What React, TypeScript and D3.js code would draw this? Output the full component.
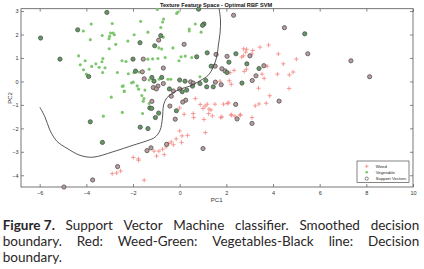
import React, { useEffect, useRef } from "react";
import * as d3 from "d3";

type P = [number, number];

const xTicks = [-6, -4, -2, 0, 2, 4, 6, 8, 10];
const yTicks = [-4, -3, -2, -1, 0, 1, 2, 3];
const chartTitle = "Texture Feature Space - Optimal RBF SVM";
const xLabel = "PC1";
const yLabel = "PC2";
const legendLabels = ["Weed", "Vegetable", "Support Vectors"];

const captionBold = "Figure 7.";
const captionLines = [
  "Support Vector Machine classifier. Smoothed decision",
  "boundary. Red: Weed-Green: Vegetables-Black line: Decision",
  "boundary.",
];

const vegPoints: P[] = [
  [-4.13, 2.15], [-3.79, 2.45], [-3.83, 1.78], [-3.32, 1.96], [-2.89, 2.47], [-2.96, 2.06], [-2.85, 2.06],
  [-3.0, 1.92], [-3.03, 1.82], [-2.8, 1.99], [-2.74, 1.58], [-3.02, 1.39], [-2.22, 1.72], [-1.95, 1.99],
  [-4.33, 1.09], [-4.05, 0.88], [-4.26, 0.71], [-4.12, 0.5], [-3.77, 0.64], [-3.59, 0.75], [-3.45, 0.6],
  [-3.29, 0.98], [-3.33, 0.84], [-3.2, 0.58], [-3.3, 0.38], [-4.0, 0.31], [-2.67, 0.38], [-2.47, 0.88],
  [-2.3, 0.85], [-2.2, 0.33], [-1.96, 0.37], [-2.06, -0.06], [-2.46, -0.21], [-2.37, -0.43], [-2.93, -0.67],
  [-0.96, 3.07], [-0.13, 2.9], [-0.07, 2.96], [-0.69, 2.66], [-0.73, 2.53], [-0.81, 2.3], [-1.67, 2.56],
  [-1.36, 2.1], [-0.7, 1.88], [-0.89, 1.43], [-0.77, 1.38], [-0.29, 1.43], [0.41, 2.23], [0.41, 2.15],
  [0.67, 2.45], [0.92, 2.1], [-1.36, 0.95], [-1.16, 0.96], [-0.93, 0.98], [-0.62, 1.02], [0.06, 1.05],
  [0.24, 1.08], [0.52, 1.02], [-0.03, 0.88], [-1.73, 0.4], [-1.31, 0.52], [-0.88, 0.09], [-0.5, 0.09],
  [-0.38, 0.09], [0.87, 0.2], [-1.31, 0.06], [-1.53, -0.73], [-1.62, -0.6], [-1.76, -0.33], [-1.82, -0.19],
  [-1.99, -0.03], [-2.42, -0.19], [-2.38, -0.41], [-3.27, -1.48], [-2.46, -1.32], [-1.59, -1.37],
  [-1.56, -0.84], [-1.31, -0.94], [-1.49, -0.37],
];

const weedPoints: P[] = [
  [0.67, -0.73], [0.88, -0.98], [1.0, -1.15], [0, -1.13], [0.19, -1.4], [0.58, -1.37], [0.6, -1.54],
  [1.04, -1.62], [1.24, -1.37], [1.34, -1.22], [1.1, -2.18], [0, -2.11], [0.1, -2.32], [0.34, -2.3],
  [-0.15, -2.45], [-0.36, -2.58], [-0.27, -2.7], [0.08, -2.6], [-0.47, -2.65], [-0.58, -2.79], [-0.73, -2.89],
  [-0.89, -2.97], [-1.1, -2.97], [-0.66, -3.12], [-0.99, -3.18], [-1.99, -3.24], [-1.77, -3.3], [-1.76, -3.36],
  [-2.53, -3.82], [-2.7, -3.9], [-2.89, -3.93], [-1.52, -4.21], [1.09, -1.05], [1.26, -1.18], [1.51, -0.97],
  [1.88, -0.97], [2.1, -0.91], [1.4, -1.47], [1.81, -1.51], [1.76, -1.54], [2.13, 0.03], [1.73, 0.01],
  [2.74, 1.39], [2.87, 1.37], [2.83, 1.25], [3.13, 1.32], [3.44, 1.46], [3.81, 1.55], [4.23, 1.17],
  [2.73, 1.09], [2.33, 0.47], [2.77, 0.43], [2.86, 0.52], [3.75, 0.65], [4.44, 0.75], [5.0, 0.95],
  [4.86, 0.4], [4.7, 0.28], [4.19, 0.31], [3.62, 0.13], [3.38, -0.29], [4.69, -0.3], [2.21, -0.12],
  [2.16, 0.37], [3.24, -1.04], [3.4, -0.96], [3.71, -0.93], [2.61, -1.42], [2.37, -1.48], [2.2, -1.42],
  [3.1, -1.54], [2.66, 1.04], [3.1, 1.17], [3.53, 0.31], [3.86, -0.61], [1.18, -0.97], [2.04, -0.94],
  [2.23, -1.44], [2.58, -1.44],
];

const vegSupport: P[] = [
  [-5.96, 1.85], [-5.13, 0.95], [-4.37, 2.2], [-3.12, 2.94], [-3.9, 0.21], [-2.0, 0.95], [-1.7, 1.65],
  [-1.07, 1.52], [-0.81, 1.95], [1.04, 2.45], [0.98, 2.39], [0.81, 3.08], [0.73, 1.05], [1.18, 1.22],
  [2.11, 0.82], [2.03, 0.38], [-1.89, 0.44], [-1.19, 0.17], [-1.1, 0.01], [-0.77, 0.17], [0.0, 0.06],
  [0.23, 0.01], [1.12, 0.04], [-0.44, -0.32], [0.3, -0.37], [0.55, -0.2], [-1.28, -1.13], [-3.83, -1.72],
  [-1.2, -1.15], [-1.04, -1.54], [-0.9, -1.35], [-1.69, -1.95], [-1.36, -2.01], [-3.31, -2.6], [-0.14, -1.25],
  [5.36, 2.03], [2.41, 1.18], [2.88, 0.75], [3.4, 0.55], [2.67, -0.07], [1.16, -0.23], [1.44, -0.23],
  [0.87, -0.09], [1.35, 0.65], [0.11, -0.44],
];

const weedSupport: P[] = [
  [-0.9, 1.76], [0.19, 1.58], [-1.56, 0.95], [1.56, 1.15], [1.52, 0.65], [1.94, 0.45], [-1.6, 0.41],
  [-1.52, 0.11], [-0.7, 0.57], [0.47, -0.02], [0.58, -0.07], [-1.13, -0.26], [-0.93, -0.2], [-1.0, -0.32],
  [-0.27, -0.41], [0.0, -0.32], [-0.36, -0.63], [0.26, -0.8], [0.13, -0.88], [-1.19, -0.85], [-0.42, -1.05],
  [-0.19, -1.61], [1.0, -2.86], [-0.56, -2.68], [-1.23, -2.83], [-1.4, -2.95], [-2.66, -3.63], [-3.73, -4.2],
  [-4.96, -4.5], [2.31, 2.82], [4.49, 2.29], [5.49, 1.18], [3.01, 1.09], [3.61, 0.67], [3.27, 0.24],
  [3.11, 0.04], [4.26, -0.84], [2.4, -0.98], [2.46, -1.6], [3.1, -1.79], [7.34, 0.88], [8.14, 0.2],
  [2.03, 1.07], [1.81, 0.54], [1.53, -0.03], [1.78, -0.14], [-0.7, -0.09],
];

const boundary: P[] = [
  [1.69, 3.1], [1.75, 2.62], [1.73, 2.06], [1.66, 1.55], [1.59, 1.05], [1.44, 0.62], [1.23, 0.27],
  [0.87, 0.03], [0.44, -0.2], [0.01, -0.33], [-0.33, -0.52], [-0.56, -0.71], [-0.69, -1.01], [-0.74, -1.57],
  [-0.84, -2.08], [-1.06, -2.38], [-1.4, -2.53], [-2.0, -2.72], [-2.86, -3.0], [-3.72, -3.23], [-4.27, -3.15],
  [-4.83, -2.85], [-5.26, -2.55], [-5.56, -2.08], [-5.77, -1.52], [-5.99, -1.1],
];

const WEED = "#f28a84";
const VEG = "#7cc66c";
const VEG_SV = "#5f9a5e";
const WEED_SV = "#bb9c9d";
const SV_EDGE = "#505050";

export default function App() {
  const ref = useRef<SVGSVGElement>(null);

  useEffect(() => {
    const svg = d3.select(ref.current);
    svg.selectAll("*").remove();
    const font = "'Liberation Sans', Arial, sans-serif";

    const x = d3.scaleLinear().domain([-6.8, 10]).range([21, 413]);
    const y = d3.scaleLinear().domain([-4.5, 3.1]).range([187, 8.7]);

    const g = svg.append("g");

    const styleAxis = (sel: any) => {
      sel.select(".domain").remove();
      sel.selectAll(".tick line").attr("stroke", "#555").attr("stroke-width", 0.7);
      sel.selectAll(".tick text").attr("fill", "#333").style("font-family", font).style("font-size", "5.5px");
    };
    g.append("g").attr("transform", "translate(0,187)")
      .call(d3.axisBottom(x).tickValues(xTicks).tickSizeInner(-3).tickSizeOuter(0).tickPadding(4))
      .call(styleAxis);
    g.append("g").attr("transform", "translate(0,8.7)")
      .call(d3.axisTop(x).tickValues(xTicks).tickSizeInner(-3).tickSizeOuter(0).tickFormat(() => ""))
      .call(styleAxis);
    g.append("g").attr("transform", "translate(21,0)")
      .call(d3.axisLeft(y).tickValues(yTicks).tickSizeInner(-3).tickSizeOuter(0).tickPadding(2.5))
      .call(styleAxis);
    g.append("g").attr("transform", "translate(413,0)")
      .call(d3.axisRight(y).tickValues(yTicks).tickSizeInner(-3).tickSizeOuter(0).tickFormat(() => ""))
      .call(styleAxis);

    g.append("rect").attr("x", 21).attr("y", 8.7).attr("width", 392).attr("height", 178.3)
      .attr("fill", "none").attr("stroke", "#555").attr("stroke-width", 0.8);

    const plus = (cx: number, cy: number, s: number) =>
      `M${cx - s},${cy}H${cx + s}M${cx},${cy - s}V${cy + s}`;
    g.append("g").selectAll("path").data(weedPoints).join("path")
      .attr("d", (d) => plus(x(d[0]), y(d[1]), 2.2))
      .attr("stroke", WEED).attr("stroke-width", 0.85).attr("fill", "none");

    g.append("g").selectAll("circle").data(vegPoints).join("circle")
      .attr("cx", (d) => x(d[0])).attr("cy", (d) => y(d[1])).attr("r", 1.55)
      .attr("fill", VEG);

    g.append("g").selectAll("circle").data(weedSupport).join("circle")
      .attr("cx", (d) => x(d[0])).attr("cy", (d) => y(d[1])).attr("r", 2.1)
      .attr("fill", WEED_SV).attr("stroke", SV_EDGE).attr("stroke-width", 0.8);
    g.append("g").selectAll("circle").data(vegSupport).join("circle")
      .attr("cx", (d) => x(d[0])).attr("cy", (d) => y(d[1])).attr("r", 2.1)
      .attr("fill", VEG_SV).attr("stroke", SV_EDGE).attr("stroke-width", 0.8);

    const line = d3.line<P>().x((d) => x(d[0])).y((d) => y(d[1])).curve(d3.curveCatmullRom.alpha(0.5));
    g.append("path").attr("d", line(boundary)).attr("fill", "none")
      .attr("stroke", "#3a3a3a").attr("stroke-width", 0.85);

    g.append("text").attr("x", 216).attr("y", 6.8).attr("text-anchor", "middle")
      .style("font-family", font).style("font-size", "5.6px").style("font-weight", "bold")
      .attr("fill", "#111").text(chartTitle);
    g.append("text").attr("x", 216.7).attr("y", 201.5).attr("text-anchor", "middle")
      .style("font-family", font).style("font-size", "6px").attr("fill", "#333").text(xLabel);
    g.append("text").attr("transform", "translate(11.5,98) rotate(-90)").attr("text-anchor", "middle")
      .style("font-family", font).style("font-size", "6px").attr("fill", "#333").text(yLabel);

    const lg = g.append("g");
    lg.append("rect").attr("x", 357).attr("y", 161).attr("width", 52).attr("height", 21.5)
      .attr("fill", "#fff").attr("stroke", "#333").attr("stroke-width", 0.6);
    const ly = [166.3, 172.3, 178.6];
    lg.append("path").attr("d", plus(366.7, ly[0], 1.8)).attr("stroke", WEED).attr("stroke-width", 0.8);
    lg.append("circle").attr("cx", 366.7).attr("cy", ly[1]).attr("r", 1.3).attr("fill", VEG);
    lg.append("circle").attr("cx", 366.7).attr("cy", ly[2]).attr("r", 1.6)
      .attr("fill", "none").attr("stroke", SV_EDGE).attr("stroke-width", 0.7);
    legendLabels.forEach((t, i) => {
      lg.append("text").attr("x", 375.7).attr("y", ly[i] + 1.5)
        .style("font-family", font).style("font-size", "4.3px").attr("fill", "#222").text(t);
    });

    const cap = svg.append("g");
    const capFont = "Lato, 'Open Sans', sans-serif";
    const left = 2.7, right = 419.3;
    const baselines = [230, 246, 262];
    const allLines: { text: string; bold: boolean }[][] = captionLines.map((l, i) => {
      const words = l.split(" ").map((w) => ({ text: w, bold: false }));
      if (i === 0) words.unshift({ text: captionBold, bold: true });
      return words;
    });
    allLines.forEach((words, li) => {
      const nodes = words.map((w) =>
        cap.append("text").attr("y", baselines[li]).attr("fill", "#2a2627")
          .style("font-family", capFont).style("font-size", "13.5px")
          .style("font-weight", w.bold ? "bold" : "normal").text(w.text)
      );
      const widths = nodes.map((n) => (n.node() as SVGTextElement).getComputedTextLength());
      const total = widths.reduce((a, b) => a + b, 0);
      const justify = li < allLines.length - 1 && words.length > 1;
      const gap = justify ? (right - left - total) / (words.length - 1) : 3.5;
      let cx = left;
      nodes.forEach((n, i) => {
        n.attr("x", cx);
        cx += widths[i] + gap;
      });
    });
  }, []);

  return (
    <svg
      ref={ref}
      width={424}
      height={269}
      style={{ position: "absolute", left: 0, top: 0, background: "#fff" }}
    />
  );
}
